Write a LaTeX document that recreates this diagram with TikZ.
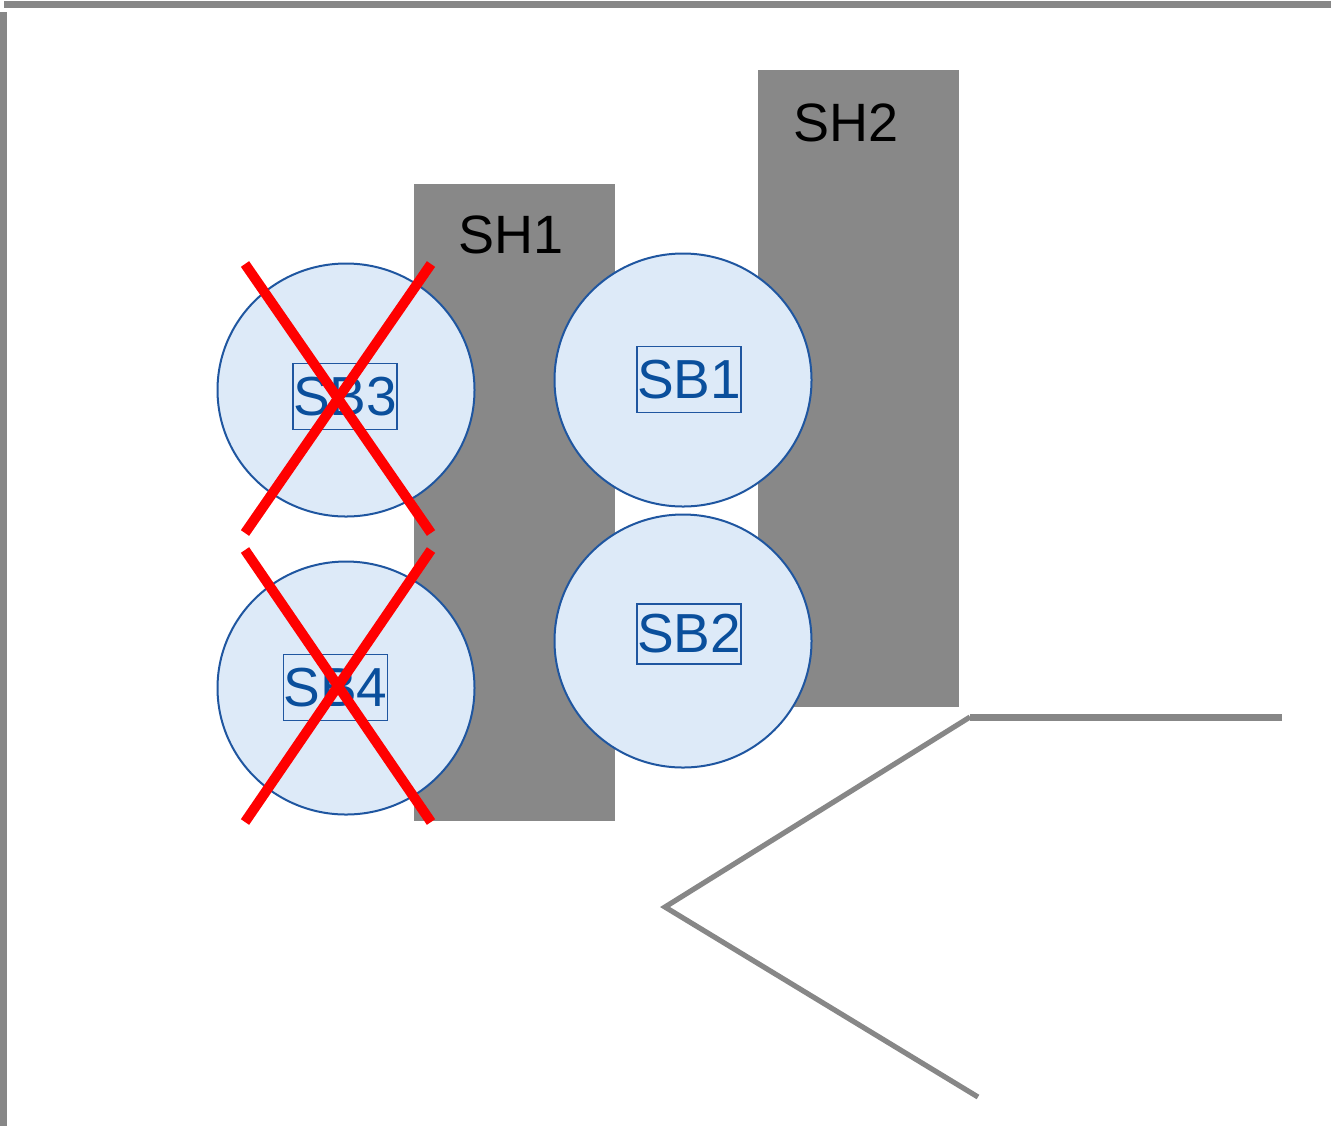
\documentclass[tikz,border=0pt]{standalone}
\usepackage{fontspec}
\setmainfont{Liberation Sans}
\usetikzlibrary{shapes.geometric}
\definecolor{wallgray}{HTML}{878787}
\definecolor{shgray}{HTML}{888888}
\definecolor{sbfill}{HTML}{DDEAF8}
\definecolor{sbline}{HTML}{1F56A0}
\definecolor{sbtext}{HTML}{0A4F9C}
\definecolor{xred}{HTML}{FF0000}
\tikzset{
  shelf/.style={fill=shgray, draw=none},
  shlabel/.style={font=\fontsize{27}{30}\selectfont, text=black, inner sep=0},
  sbcircle/.style={ellipse, fill=sbfill, draw=sbline, line width=1pt, minimum width=128.5pt, minimum height=126.5pt, inner sep=0},
  sblabel/.style={draw=sbline, line width=0.6pt, text=sbtext, font=\fontsize{27.5}{30}\selectfont, minimum width=52pt, minimum height=33pt, inner sep=0},
  cross/.style={draw=xred, line width=5pt},
  wall/.style={draw=wallgray, line width=3.5pt},
  guide/.style={draw=wallgray, line width=2.6pt}
}
\begin{document}
\begin{tikzpicture}[x=0.5pt, y=-0.5pt]
\useasboundingbox (0,0) rectangle (1331,1126);
% walls
\coordinate (wt1) at (4,4.5);
\coordinate (wt2) at (1331,4.5);
\coordinate (wl1) at (3,12);
\coordinate (wl2) at (3,1126);
\draw[wall] (wt1) -- (wt2);
\draw[wall] (wl1) -- (wl2);
% shelves
\node[shelf, minimum width=100.5pt, minimum height=318.5pt, anchor=north west, inner sep=0] (sh1) at (414,184) {};
\node[shelf, minimum width=100.5pt, minimum height=318.5pt, anchor=north west, inner sep=0] (sh2) at (758,70) {};
\node[shlabel] (sh1l) at (511,235) {SH1};
\node[shlabel] (sh2l) at (846,123) {SH2};
% circles
\node[sbcircle] (sb3) at (346,390) {};
\node[sbcircle] (sb4) at (346,688) {};
\node[sbcircle] (sb1) at (683,380) {};
\node[sbcircle] (sb2) at (683,641) {};
\node[sblabel] (sb3l) at (345,396.5) {SB3};
\node[sblabel] (sb4l) at (335.5,687.5) {SB4};
\node[sblabel] (sb1l) at (689,379.5) {SB1};
\node[sblabel, minimum height=30pt] (sb2l) at (689,634) {SB2};
% crosses
\coordinate (c3a) at (245,264);
\coordinate (c3b) at (431,533);
\coordinate (c3c) at (431,264);
\coordinate (c3d) at (245,533);
\draw[cross] (c3a) -- (c3b);
\draw[cross] (c3c) -- (c3d);
\coordinate (c4a) at (245,550);
\coordinate (c4b) at (431,822);
\coordinate (c4c) at (431,550);
\coordinate (c4d) at (245,822);
\draw[cross] (c4a) -- (c4b);
\draw[cross] (c4c) -- (c4d);
% guide lines
\coordinate (g1) at (1282,717);
\coordinate (g2) at (970,717);
\coordinate (g3) at (665,907);
\coordinate (g4) at (978,1097);
\draw[wall] (g1) -- (g2);
\draw[guide] (g2) -- (g3) -- (g4);
\end{tikzpicture}
\end{document}
